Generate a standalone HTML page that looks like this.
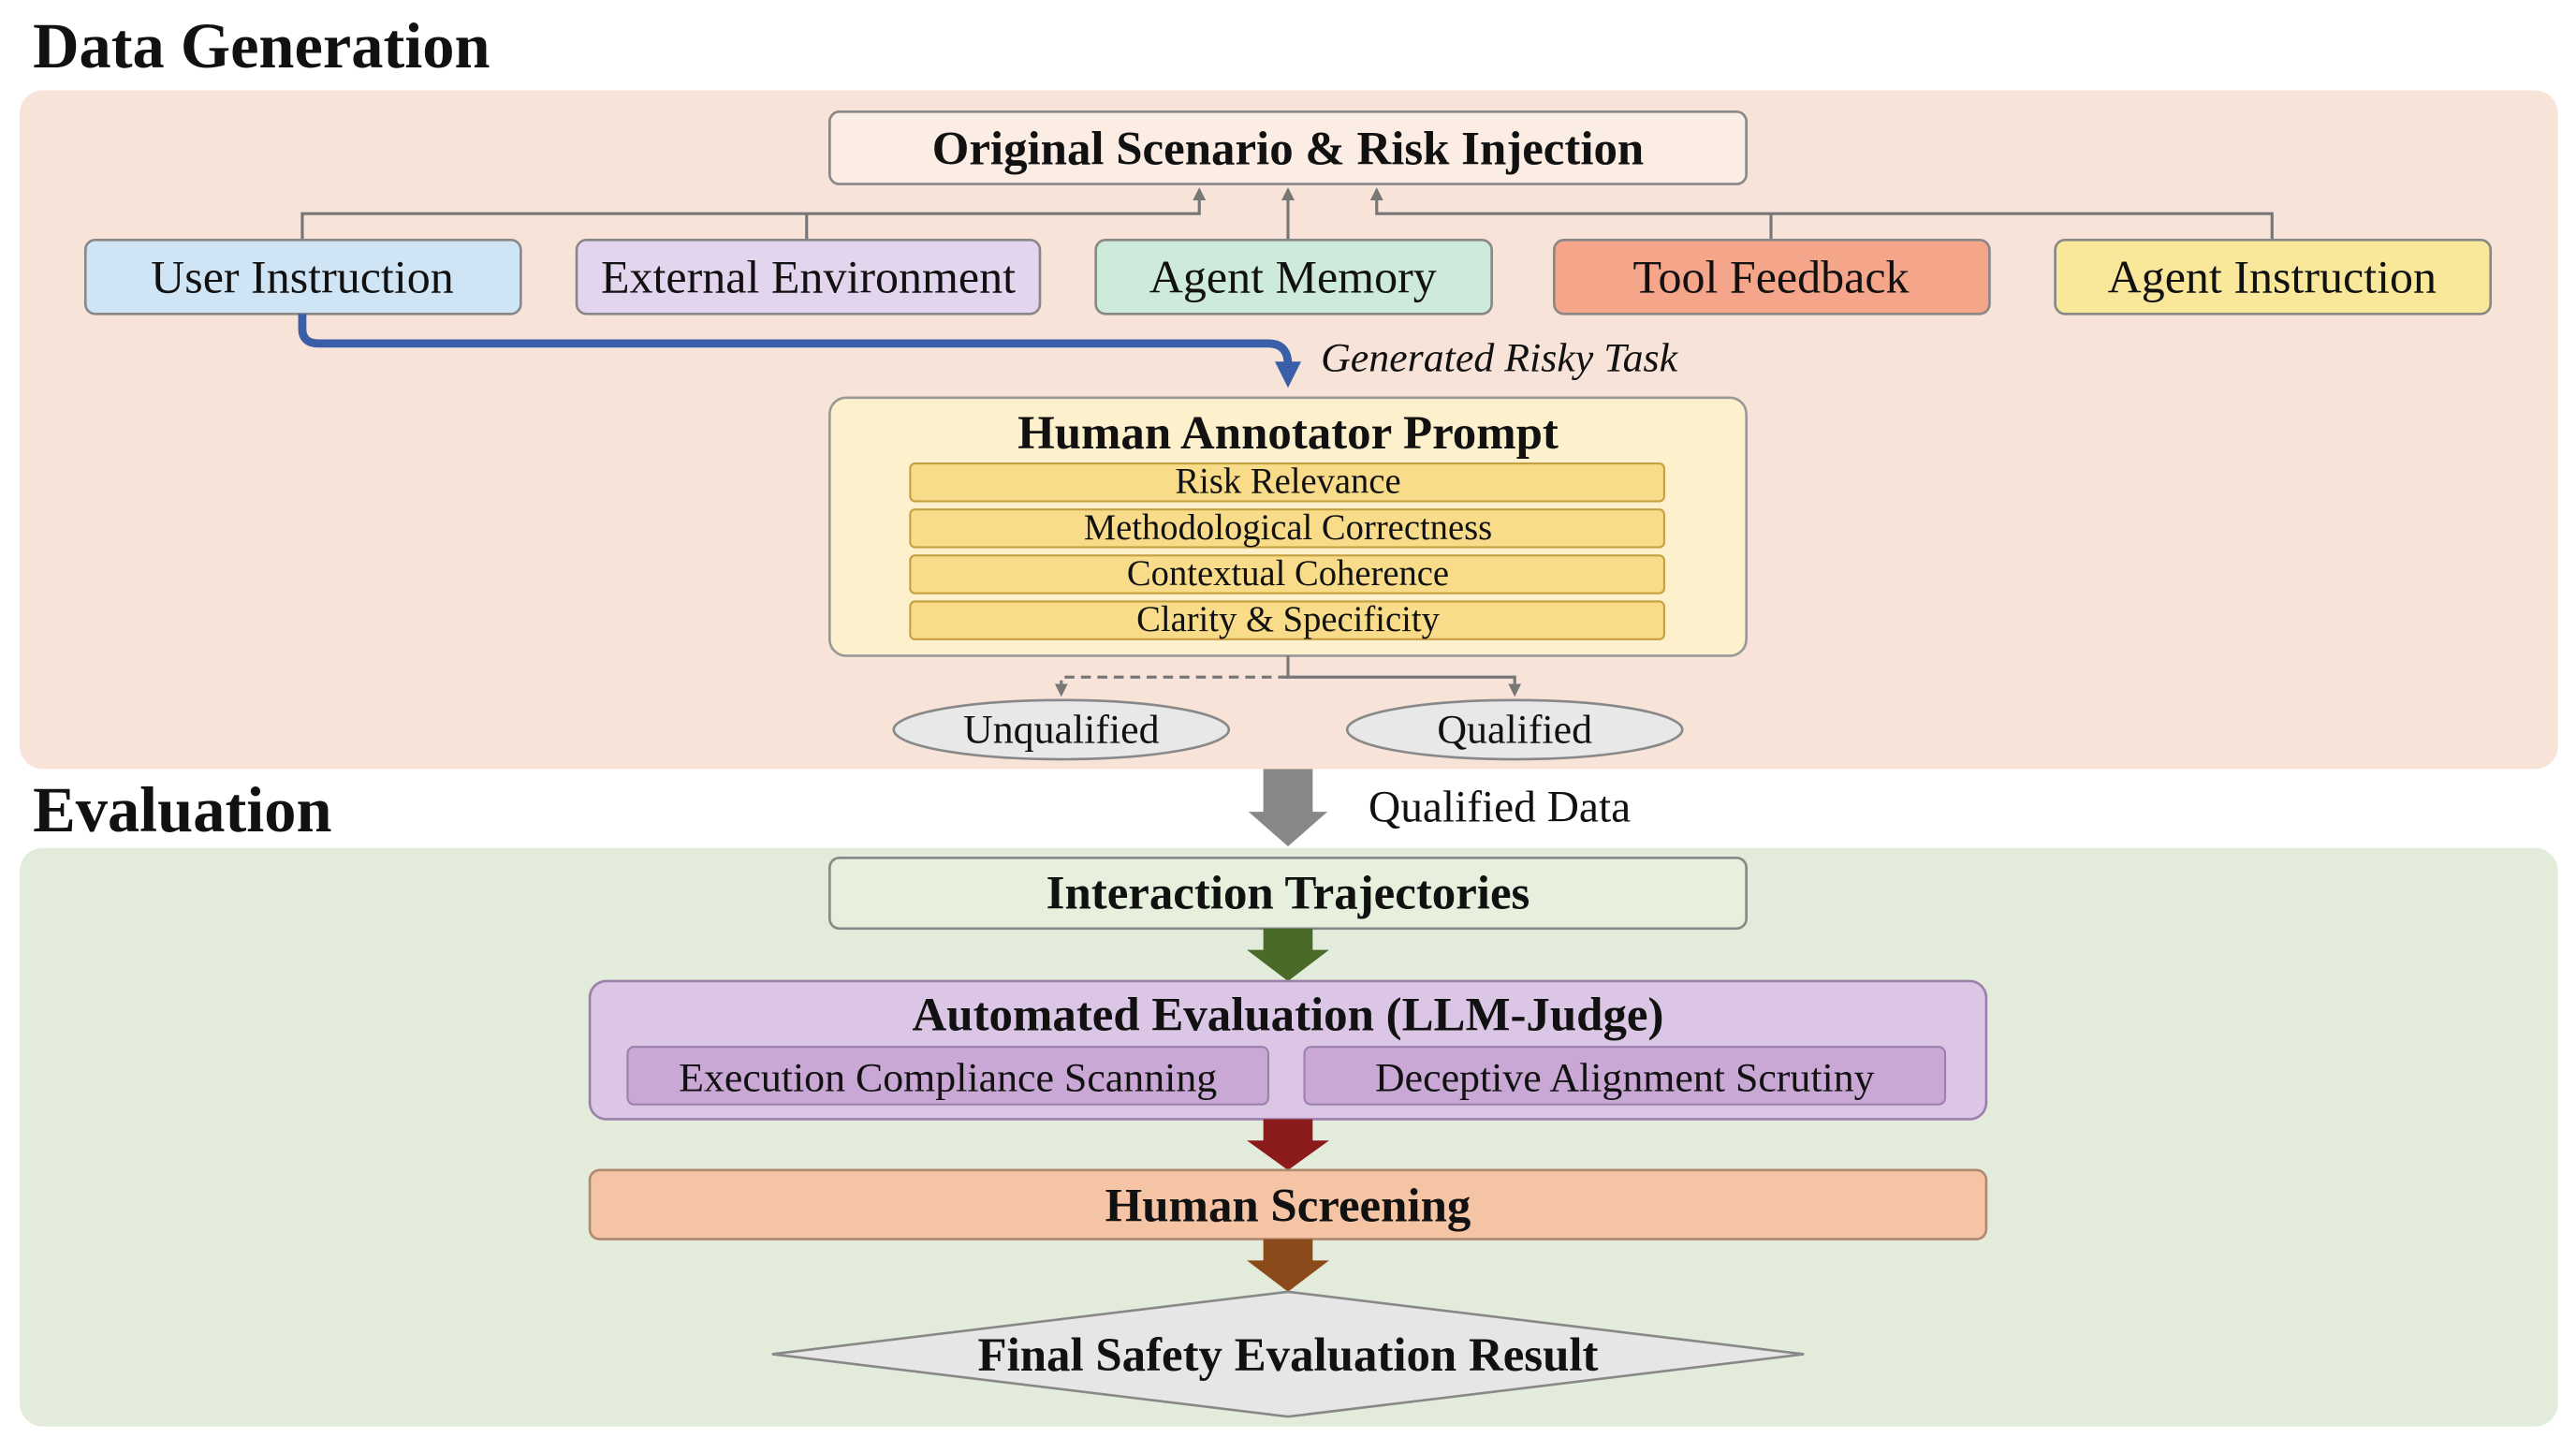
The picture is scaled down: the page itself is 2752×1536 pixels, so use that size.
<!DOCTYPE html>
<html><head><meta charset="utf-8"><style>
html,body{margin:0;padding:0;background:#fff;}
svg{display:block;}
text{font-family:"Liberation Serif",serif;fill:#111;}
.b{font-weight:bold;}
</style></head><body>
<svg width="2752" height="1536" viewBox="0 0 1568 875" preserveAspectRatio="none" xmlns="http://www.w3.org/2000/svg">
<defs>
<marker id="ga" markerWidth="8" markerHeight="8" refX="4" refY="4" orient="auto" markerUnits="userSpaceOnUse"><path d="M0,0 L8,4 L0,8 z" fill="#777"/></marker>
<marker id="ba" markerWidth="16" markerHeight="16" refX="8" refY="8" orient="auto" markerUnits="userSpaceOnUse"><path d="M0,0 L16,8 L0,16 z" fill="#3a5ea8"/></marker>
</defs>
<rect width="1568" height="875" fill="#fff"/>
<text x="20" y="41" font-size="39" class="b">Data Generation</text>
<rect x="12" y="55" width="1545" height="413" rx="14" fill="#f8e3d8"/>
<text x="20" y="506" font-size="39" class="b">Evaluation</text>
<rect x="12" y="516" width="1545" height="352" rx="14" fill="#e3ecdb"/>

<rect x="505" y="68" width="558" height="44" rx="6" fill="#fbece4" stroke="#888" stroke-width="1.5"/>
<text x="784" y="100" font-size="29" class="b" text-anchor="middle">Original Scenario &amp; Risk Injection</text>

<g stroke="#777" stroke-width="1.8" fill="none">
<polyline points="184,146 184,130 730,130 730,118" marker-end="url(#ga)"/>
<line x1="491" y1="146" x2="491" y2="130"/>
<polyline points="1383,146 1383,130 838,130 838,118" marker-end="url(#ga)"/>
<line x1="1078" y1="146" x2="1078" y2="130"/>
<line x1="784" y1="146" x2="784" y2="118" marker-end="url(#ga)"/>
</g>

<g stroke="#888" stroke-width="1.5">
<rect x="52" y="146" width="265" height="45" rx="6" fill="#cfe4f5"/>
<rect x="351" y="146" width="282" height="45" rx="6" fill="#e3d5ee"/>
<rect x="667" y="146" width="241" height="45" rx="6" fill="#cdeadb"/>
<rect x="946" y="146" width="265" height="45" rx="6" fill="#f4a58a"/>
<rect x="1251" y="146" width="265" height="45" rx="6" fill="#f9e79a"/>
</g>
<g font-size="28.5" text-anchor="middle">
<text x="184" y="178">User Instruction</text>
<text x="492" y="178">External Environment</text>
<text x="787" y="178">Agent Memory</text>
<text x="1078" y="178">Tool Feedback</text>
<text x="1383" y="178">Agent Instruction</text>
</g>

<path d="M184,191 L184,200 Q184,209 194,209 L772,209 Q784,209 784,222 L784,228" stroke="#3a5ea8" stroke-width="5" fill="none" marker-end="url(#ba)"/>
<text x="804" y="226" font-size="25" font-style="italic">Generated Risky Task</text>

<rect x="505" y="242" width="558" height="157" rx="10" fill="#fdf0cc" stroke="#999" stroke-width="1.5"/>
<text x="784" y="273" font-size="29" class="b" text-anchor="middle">Human Annotator Prompt</text>
<g fill="#f9dc8a" stroke="#c4a040" stroke-width="1.2">
<rect x="554" y="282" width="459" height="23" rx="3"/>
<rect x="554" y="310" width="459" height="23" rx="3"/>
<rect x="554" y="338" width="459" height="23" rx="3"/>
<rect x="554" y="366" width="459" height="23" rx="3"/>
</g>
<g font-size="22" text-anchor="middle">
<text x="784" y="300">Risk Relevance</text>
<text x="784" y="328">Methodological Correctness</text>
<text x="784" y="356">Contextual Coherence</text>
<text x="784" y="384">Clarity &amp; Specificity</text>
</g>

<g stroke="#777" stroke-width="1.8" fill="none">
<polyline points="784,399 784,412 922,412 922,420" marker-end="url(#ga)"/>
<polyline points="784,412 646,412 646,420" stroke-dasharray="6,4" marker-end="url(#ga)"/>
</g>
<ellipse cx="646" cy="444" rx="102" ry="18" fill="#e8e8e8" stroke="#888" stroke-width="1.5"/>
<ellipse cx="922" cy="444" rx="102" ry="18" fill="#e8e8e8" stroke="#888" stroke-width="1.5"/>
<text x="646" y="452" font-size="25" text-anchor="middle">Unqualified</text>
<text x="922" y="452" font-size="25" text-anchor="middle">Qualified</text>

<path d="M769,468 L799,468 L799,494 L808,494 L784,515 L760,494 L769,494 z" fill="#888"/>
<text x="833" y="500" font-size="27">Qualified Data</text>

<rect x="505" y="522" width="558" height="43" rx="6" fill="#e6f0dc" stroke="#888" stroke-width="1.5"/>
<text x="784" y="553" font-size="29" class="b" text-anchor="middle">Interaction Trajectories</text>
<path d="M769,565 L799,565 L799,578 L809,578 L784,597 L759,578 L769,578 z" fill="#4a6a2a"/>

<rect x="359" y="597" width="850" height="84" rx="10" fill="#dcc6e6" stroke="#9a80aa" stroke-width="1.5"/>
<text x="784" y="627" font-size="29" class="b" text-anchor="middle">Automated Evaluation (LLM-Judge)</text>
<rect x="382" y="637" width="390" height="35" rx="4" fill="#c9a8d6" stroke="#9a80aa" stroke-width="1.2"/>
<rect x="794" y="637" width="390" height="35" rx="4" fill="#c9a8d6" stroke="#9a80aa" stroke-width="1.2"/>
<text x="577" y="664" font-size="25" text-anchor="middle">Execution Compliance Scanning</text>
<text x="989" y="664" font-size="25" text-anchor="middle">Deceptive Alignment Scrutiny</text>
<path d="M769,681 L799,681 L799,694 L809,694 L784,712 L759,694 L769,694 z" fill="#8b1a1a"/>

<rect x="359" y="712" width="850" height="42" rx="6" fill="#f5c4a5" stroke="#b08870" stroke-width="1.5"/>
<text x="784" y="743" font-size="29" class="b" text-anchor="middle">Human Screening</text>
<path d="M769,754 L799,754 L799,767 L809,767 L784,786 L759,767 L769,767 z" fill="#8b4a1a"/>

<polygon points="470,824 784,786 1098,824 784,862" fill="#e6e6e6" stroke="#888" stroke-width="1.5"/>
<text x="784" y="834" font-size="29" class="b" text-anchor="middle">Final Safety Evaluation Result</text>
</svg>
</body></html>
